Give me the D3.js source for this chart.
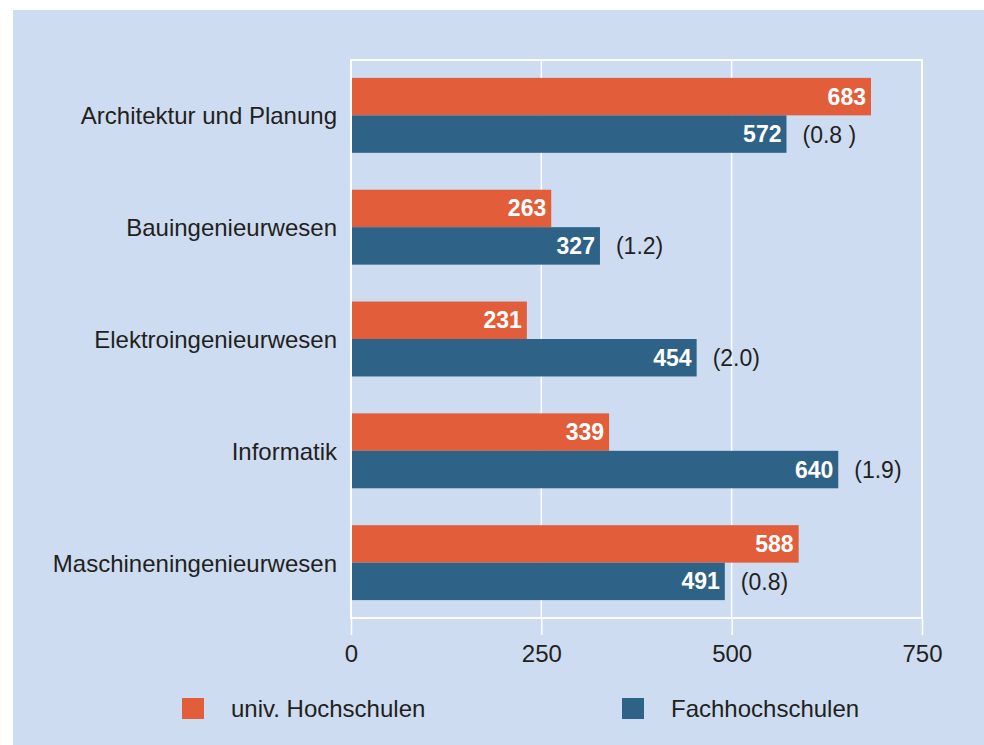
<!DOCTYPE html>
<html>
<head>
<meta charset="utf-8">
<script src="https://cdn.jsdelivr.net/npm/d3@7"></script>
<style>
  body { margin: 0; background: #ffffff; }
  svg text { font-family: "Liberation Sans", Arial, Helvetica, sans-serif; }
</style>
</head>
<body>
<div id="canvas"></div>
<script>
// data
var categories = ["Architektur und Planung", "Bauingenieurwesen", "Elektroingenieurwesen", "Informatik", "Maschineningenieurwesen"];
var seriesNames = ["univ. Hochschulen", "Fachhochschulen"];
var univValues = [683, 263, 231, 339, 588];
var fhValues = [572, 327, 454, 640, 491];
var ratioLabels = ["(0.8 )", "(1.2)", "(2.0)", "(1.9)", "(0.8)"];
var xTicks = [0, 250, 500, 750];

// layout
var canvasWidth = 984, canvasHeight = 745;
var plotLeft = 351, plotRight = 922, plotTop = 60, plotBottom = 618;
var colors = { univ: "#e25e3a", fh: "#2e6387", panel: "#cddcf1", text: "#231f20" };
var fontSize = 24;

var svg = d3.select("#canvas").append("svg")
    .attr("width", canvasWidth)
    .attr("height", canvasHeight)
    .attr("viewBox", "0 0 " + canvasWidth + " " + canvasHeight);

// background panel
svg.append("rect")
    .attr("x", 13)
    .attr("y", 10)
    .attr("width", canvasWidth - 13)
    .attr("height", canvasHeight - 10)
    .attr("fill", colors.panel);

var x = d3.scaleLinear().domain([0, 750]).range([plotLeft, plotRight]);

var y = d3.scaleBand()
    .domain(categories)
    .range([plotTop, plotBottom])
    .paddingInner(0.33)
    .paddingOuter(0.16);

var sub = d3.scaleBand()
    .domain(["univ", "fh"])
    .range([0, y.bandwidth()]);

// gridlines
svg.append("g").selectAll("line")
    .data(xTicks.filter(function(d) { return d > 0 && d < 750; }))
    .enter().append("line")
    .attr("x1", function(d) { return x(d); })
    .attr("x2", function(d) { return x(d); })
    .attr("y1", plotTop)
    .attr("y2", plotBottom)
    .attr("stroke", "#ffffff")
    .attr("stroke-width", 1.5);

// bars
var rows = categories.map(function(c, i) {
    return { cat: c, univ: univValues[i], fh: fhValues[i], ratio: ratioLabels[i] };
});

var groups = svg.append("g").selectAll("g")
    .data(rows)
    .enter().append("g")
    .attr("transform", function(d) { return "translate(0," + y(d.cat) + ")"; });

["univ", "fh"].forEach(function(key) {
    groups.append("rect")
        .attr("x", x(0))
        .attr("y", sub(key))
        .attr("width", function(d) { return x(d[key]) - x(0); })
        .attr("height", sub.bandwidth())
        .attr("fill", colors[key]);

    groups.append("text")
        .attr("x", function(d) { return x(d[key]) - 5; })
        .attr("y", sub(key) + sub.bandwidth() / 2 + 8)
        .attr("text-anchor", "end")
        .attr("font-size", 23)
        .attr("font-weight", "bold")
        .attr("fill", "#ffffff")
        .text(function(d) { return d[key]; });
});

// ratio labels next to the Fachhochschulen bars
groups.append("text")
    .attr("x", function(d) { return x(d.fh) + 16; })
    .attr("y", sub("fh") + sub.bandwidth() / 2 + 8.5)
    .attr("font-size", 23)
    .attr("fill", colors.text)
    .text(function(d) { return d.ratio; });

// category labels
groups.append("text")
    .attr("x", plotLeft - 14)
    .attr("y", y.bandwidth() / 2 + 9)
    .attr("text-anchor", "end")
    .attr("font-size", fontSize)
    .attr("fill", colors.text)
    .text(function(d) { return d.cat; });

// frame
svg.append("rect")
    .attr("x", plotLeft)
    .attr("y", plotTop)
    .attr("width", plotRight - plotLeft)
    .attr("height", plotBottom - plotTop)
    .attr("fill", "none")
    .attr("stroke", "#ffffff")
    .attr("stroke-width", 2);

// x axis
var axis = svg.append("g")
    .attr("transform", "translate(0," + plotBottom + ")")
    .call(d3.axisBottom(x).tickValues(xTicks).tickSize(17).tickPadding(10).tickFormat(d3.format("d")));

axis.select(".domain").remove();
axis.selectAll(".tick line").attr("stroke", "#ffffff").attr("stroke-width", 1.5);
axis.selectAll(".tick text")
    .attr("font-size", fontSize)
    .attr("fill", colors.text)
    .style("font-family", "'Liberation Sans', Arial, sans-serif");

// legend
var legendX = [182, 622];
var legend = svg.append("g").selectAll("g")
    .data(seriesNames)
    .enter().append("g")
    .attr("transform", function(d, i) { return "translate(" + legendX[i] + ",698)"; });

legend.append("rect")
    .attr("width", 22)
    .attr("height", 21)
    .attr("fill", function(d, i) { return i == 0 ? colors.univ : colors.fh; });

legend.append("text")
    .attr("x", 49)
    .attr("y", 19)
    .attr("font-size", fontSize)
    .attr("fill", colors.text)
    .text(function(d) { return d; });
</script>
</body>
</html>
